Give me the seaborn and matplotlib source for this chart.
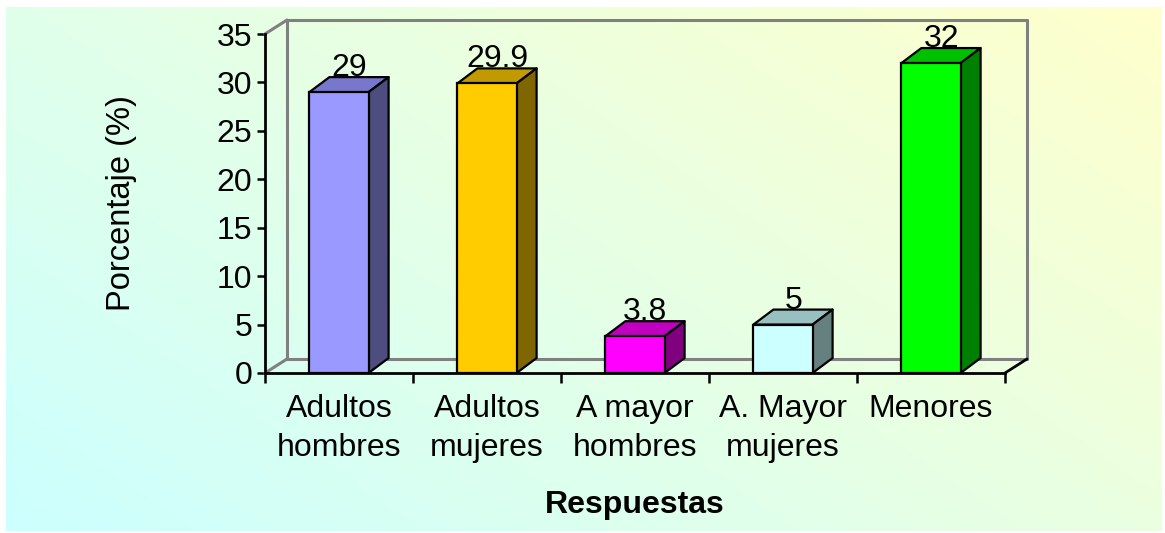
import numpy as np
import pandas as pd
import matplotlib
matplotlib.use("Agg")
import matplotlib.pyplot as plt
from matplotlib.patches import Polygon
import seaborn as sns

categories = ["Adultos\nhombres", "Adultos\nmujeres", "A mayor\nhombres", "A. Mayor\nmujeres", "Menores"]
values = [29, 29.9, 3.8, 5, 32]
value_labels = ["29", "29.9", "3.8", "5", "32"]
front_colors = ["#9999FF", "#FFCC00", "#FF00FF", "#CCFFFF", "#00FF00"]
top_colors = ["#7777CC", "#C09A00", "#C000C0", "#99C0C0", "#00C000"]
side_colors = ["#4D4D80", "#806600", "#800080", "#668080", "#008000"]
y_ticks = [0, 5, 10, 15, 20, 25, 30, 35]

sns.set_theme(style="white")
plt.rcParams["font.family"] = ["Liberation Sans", "DejaVu Sans"]
plt.rcParams["text.color"] = "black"
plt.rcParams["axes.labelcolor"] = "black"
plt.rcParams["xtick.color"] = "black"
plt.rcParams["ytick.color"] = "black"

fig = plt.figure(figsize=(11.65, 5.33), dpi=100, facecolor="white")

# gradient background (cyan bottom-left -> light yellow top-right)
bg = fig.add_axes([6 / 1165, 2 / 533, 1156 / 1165, 524 / 533], zorder=-5)
gx, gy = np.meshgrid(np.linspace(0, 1, 300), np.linspace(0, 1, 150))
t = gx * 0.6 + gy * 0.4
c0 = np.array([0xCC, 0xFF, 0xFF]) / 255
c1 = np.array([0xFF, 0xFF, 0xCC]) / 255
img = c0[None, None, :] * (1 - t[..., None]) + c1[None, None, :] * t[..., None]
bg.imshow(img, aspect="auto", extent=[0, 1, 0, 1], origin="lower")
bg.axis("off")

ax = fig.add_axes([265 / 1165, 1 - 373 / 533, 740 / 1165, 339 / 533])
ax.set_facecolor("none")

df = pd.DataFrame({"cat": categories, "val": values})
sns.barplot(data=df, x="cat", y="val", hue="cat", palette=front_colors, width=0.4,
            saturation=1, edgecolor="black", linewidth=1.6, legend=False, ax=ax, zorder=3)

ax.set_xlim(-0.5, 4.5)
ax.set_ylim(0, 35)

# depth offsets (data units)
wdx, wdy = 22 / 148, 14 / 9.686
bdx, bdy = 20 / 148, 15 / 9.686

wall = dict(color="#808080", lw=2.2, clip_on=False, zorder=1)
x0, x1 = -0.5, 4.5
ax.plot([x0 + wdx, x1 + wdx], [35 + wdy, 35 + wdy], **wall)
ax.plot([x0 + wdx, x0 + wdx], [wdy, 35 + wdy], **wall)
ax.plot([x1 + wdx, x1 + wdx], [wdy, 35 + wdy], **wall)
ax.plot([x0 + wdx, x1 + wdx], [wdy, wdy], **wall)
ax.plot([x0, x0 + wdx], [0, wdy], **wall)
ax.plot([x0, x0 + wdx], [35, 35 + wdy], **wall)
ax.plot([x1, x1 + wdx], [0, wdy], color="black", lw=2, clip_on=False, zorder=4)

bars = sorted(ax.patches, key=lambda p: p.get_x())
for i, p in enumerate(bars):
    bx0 = p.get_x()
    bx1 = bx0 + p.get_width()
    h = p.get_height()
    top = Polygon([(bx0, h), (bx1, h), (bx1 + bdx, h + bdy), (bx0 + bdx, h + bdy)],
                  closed=True, facecolor=top_colors[i], edgecolor="black", lw=1.6,
                  zorder=2.5, clip_on=False, joinstyle="round")
    side = Polygon([(bx1, 0), (bx1 + bdx, bdy), (bx1 + bdx, h + bdy), (bx1, h)],
                   closed=True, facecolor=side_colors[i], edgecolor="black", lw=1.6,
                   zorder=2.5, clip_on=False, joinstyle="round")
    ax.add_patch(top)
    ax.add_patch(side)
    ax.text(bx0 + p.get_width() / 2 + 0.07, h + bdy + 0.1, value_labels[i],
            ha="center", va="baseline", fontsize=23, color="black", zorder=5, clip_on=False)

for s in ["top", "right"]:
    ax.spines[s].set_visible(False)
for s in ["left", "bottom"]:
    ax.spines[s].set_color("black")
    ax.spines[s].set_linewidth(2)
    ax.spines[s].set_zorder(4)

ax.set_yticks(y_ticks)
ax.tick_params(axis="y", which="major", direction="out", length=6, width=1.8, color="black",
               labelsize=23, pad=3, left=True)
ax.set_xticks(range(len(categories)))
ax.set_xticklabels(categories, fontsize=23, linespacing=1.4)
ax.set_xticks(np.arange(-0.5, 5, 1), minor=True)
ax.tick_params(axis="x", which="major", length=0, pad=15)
ax.tick_params(axis="x", which="minor", direction="out", length=7, width=1.8, color="black", bottom=True)
ax.grid(False)

ax.set_xlabel("Respuestas", fontsize=23, fontweight="bold")
ax.xaxis.set_label_coords(0.5, -0.345)
ax.set_ylabel("Porcentaje (%)", fontsize=23.5)
ax.yaxis.set_label_coords(-0.173, 0.5)

fig.savefig("out.png", dpi=100, facecolor="white")
